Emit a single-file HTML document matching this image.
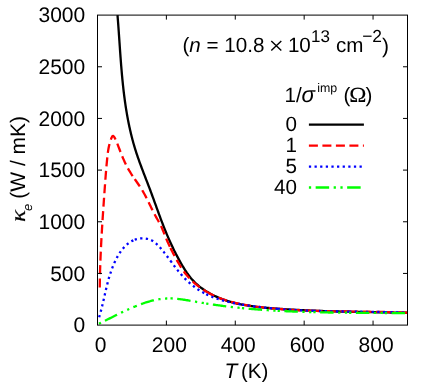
<!DOCTYPE html>
<html><head><meta charset="utf-8"><style>
html,body{margin:0;padding:0;background:#fff;}
svg{display:block;text-rendering:geometricPrecision;will-change:transform;opacity:0.999;font-family:"Liberation Sans",sans-serif;}
.ser{font-family:"Liberation Serif",serif;}
</style></head><body>
<svg width="441" height="382" viewBox="0 0 441 382">
<rect width="441" height="382" fill="#fff"/>
<g font-size="21" fill="#000">
<text x="100.50" y="352.3" text-anchor="middle">0</text>
<text x="169.39" y="352.3" text-anchor="middle">200</text>
<text x="238.28" y="352.3" text-anchor="middle">400</text>
<text x="307.17" y="352.3" text-anchor="middle">600</text>
<text x="376.06" y="352.3" text-anchor="middle">800</text>
<text x="85.2" y="332.20" text-anchor="end">0</text>
<text x="85.2" y="280.53" text-anchor="end">500</text>
<text x="85.2" y="228.87" text-anchor="end">1000</text>
<text x="85.2" y="177.20" text-anchor="end">1500</text>
<text x="85.2" y="125.53" text-anchor="end">2000</text>
<text x="85.2" y="73.87" text-anchor="end">2500</text>
<text x="85.2" y="22.20" text-anchor="end">3000</text>
<text x="224.5" y="378" font-style="italic">T</text><text x="241" y="378" font-size="20.6">(K)</text>
<g transform="translate(25.4,222.1) rotate(-90)"><text x="0" y="0" class="ser" font-style="italic" font-size="21" transform="scale(1.2,1)" stroke="#000" stroke-width="0.2">κ</text><text x="11.0" y="6.7" font-style="italic" font-size="13">e</text><text x="23.4" y="0">(W / mK)</text></g>
</g>
<g font-size="20.6" fill="#000">
<text x="182.5" y="52">(<tspan font-style="italic">n</tspan> = 10.8</text>
<path d="M271.3,41.1 L281.3,50.6 M271.3,50.6 L281.3,41.1" stroke="#000" stroke-width="1.4" fill="none"/>
<text x="287.9" y="52">10</text>
<text x="311" y="42" font-size="17">13</text>
<text x="336" y="52">cm</text>
<text x="362.2" y="42" font-size="17.4">−2</text>
<text x="382" y="53.2" font-size="21">)</text>
<text x="284.5" y="101.8">1/</text><text x="301.4" y="101.9" font-style="italic" font-size="22.3">σ</text>
<text x="317.3" y="91.8" font-size="12.4">imp</text>
<text x="343.4" y="101.6">(</text><text class="ser" font-size="21.4" transform="translate(349.3,101.5) scale(1.08,1)" stroke="#000" stroke-width="0.1">Ω</text><text x="365.6" y="101.6">)</text>
<text x="297" y="131.0" text-anchor="end">0</text>
<text x="297" y="152.0" text-anchor="end">1</text>
<text x="297" y="173.0" text-anchor="end">5</text>
<text x="297" y="194.0" text-anchor="end">40</text>
</g>
<g fill="none" stroke-width="2.3" stroke-linejoin="round">
<path d="M117.51,15.16 L117.64,16.81 L117.77,18.47 L117.90,20.12 L118.03,21.78 L118.15,23.44 L118.28,25.10 L118.40,26.77 L118.52,28.43 L118.64,30.09 L118.76,31.76 L118.87,33.43 L118.99,35.09 L119.11,36.76 L119.22,38.43 L119.34,40.10 L119.45,41.77 L119.57,43.45 L119.68,45.12 L119.80,46.79 L119.91,48.47 L120.03,50.14 L120.15,51.82 L120.27,53.49 L120.39,55.17 L120.51,56.84 L120.64,58.52 L120.76,60.19 L120.89,61.87 L121.02,63.55 L121.15,65.22 L121.29,66.90 L121.43,68.58 L121.57,70.25 L121.71,71.93 L121.86,73.60 L122.01,75.28 L122.17,76.95 L122.32,78.63 L122.49,80.30 L122.65,81.97 L122.82,83.64 L123.00,85.32 L123.18,86.99 L123.36,88.66 L123.55,90.33 L123.75,91.99 L123.95,93.66 L124.16,95.33 L124.37,96.99 L124.59,98.66 L124.81,100.32 L125.04,101.98 L125.28,103.64 L125.52,105.30 L125.77,106.96 L126.03,108.61 L126.29,110.26 L126.57,111.92 L126.85,113.57 L127.13,115.22 L127.43,116.86 L127.73,118.51 L128.04,120.15 L128.36,121.79 L128.69,123.43 L129.03,125.07 L129.37,126.71 L129.73,128.34 L130.09,129.97 L130.47,131.60 L130.85,133.22 L131.24,134.85 L131.65,136.47 L132.06,138.09 L132.48,139.70 L132.92,141.31 L133.36,142.93 L133.82,144.53 L134.29,146.14 L134.76,147.74 L135.25,149.34 L135.76,150.93 L136.27,152.53 L136.79,154.12 L137.32,155.71 L137.86,157.29 L138.42,158.87 L138.97,160.45 L139.54,162.03 L140.11,163.61 L140.69,165.19 L141.28,166.76 L141.86,168.33 L142.46,169.90 L143.05,171.47 L143.65,173.04 L144.26,174.61 L144.86,176.18 L145.47,177.74 L146.07,179.31 L146.68,180.88 L147.28,182.44 L147.89,184.01 L148.49,185.58 L149.09,187.14 L149.68,188.71 L150.28,190.28 L150.86,191.85 L151.45,193.42 L152.03,194.99 L152.60,196.56 L153.18,198.13 L153.75,199.70 L154.32,201.27 L154.89,202.84 L155.46,204.41 L156.03,205.98 L156.59,207.55 L157.16,209.12 L157.73,210.69 L158.31,212.26 L158.88,213.83 L159.46,215.40 L160.03,216.96 L160.62,218.53 L161.20,220.09 L161.79,221.65 L162.39,223.21 L162.99,224.77 L163.60,226.33 L164.21,227.88 L164.83,229.43 L165.45,230.98 L166.09,232.53 L166.73,234.08 L167.38,235.62 L168.04,237.16 L168.71,238.70 L169.39,240.24 L170.07,241.77 L170.77,243.30 L171.48,244.82 L172.19,246.34 L172.92,247.86 L173.66,249.38 L174.40,250.89 L175.16,252.39 L175.93,253.90 L176.70,255.39 L177.49,256.89 L178.29,258.38 L179.09,259.86 L179.91,261.34 L180.74,262.81 L181.58,264.28 L182.43,265.74 L183.30,267.19 L184.18,268.63 L185.09,270.05 L186.01,271.45 L186.95,272.84 L187.92,274.20 L188.91,275.55 L189.94,276.86 L190.99,278.15 L192.07,279.41 L193.18,280.64 L194.33,281.83 L195.51,282.99 L196.72,284.12 L197.96,285.22 L199.23,286.28 L200.53,287.31 L201.85,288.31 L203.21,289.28 L204.58,290.21 L205.98,291.12 L207.40,292.00 L208.84,292.85 L210.30,293.67 L211.78,294.45 L213.28,295.22 L214.79,295.95 L216.31,296.65 L217.85,297.33 L219.40,297.98 L220.96,298.61 L222.54,299.21 L224.12,299.78 L225.70,300.33 L227.29,300.85 L228.89,301.35 L230.50,301.83 L232.11,302.28 L233.73,302.71 L235.35,303.12 L236.97,303.51 L238.60,303.88 L240.24,304.23 L241.88,304.56 L243.52,304.88 L245.17,305.18 L246.82,305.46 L248.48,305.73 L250.14,305.98 L251.80,306.22 L253.46,306.45 L255.13,306.66 L256.80,306.86 L258.47,307.06 L260.14,307.24 L261.81,307.41 L263.49,307.57 L265.16,307.73 L266.84,307.88 L268.52,308.02 L270.19,308.16 L271.87,308.29 L273.55,308.42 L275.23,308.54 L276.91,308.66 L278.58,308.78 L280.26,308.89 L281.93,309.01 L283.61,309.12 L285.28,309.22 L286.96,309.33 L288.63,309.43 L290.31,309.53 L291.98,309.63 L293.65,309.72 L295.33,309.81 L297.00,309.90 L298.67,309.99 L300.34,310.08 L302.02,310.16 L303.69,310.24 L305.36,310.32 L307.03,310.40 L308.70,310.47 L310.37,310.55 L312.04,310.62 L313.71,310.69 L315.38,310.75 L317.05,310.82 L318.72,310.88 L320.39,310.95 L322.06,311.01 L323.73,311.06 L325.40,311.12 L327.07,311.18 L328.74,311.23 L330.41,311.28 L332.08,311.33 L333.75,311.38 L335.42,311.43 L337.09,311.48 L338.76,311.52 L340.43,311.56 L342.10,311.61 L343.77,311.65 L345.44,311.69 L347.11,311.73 L348.78,311.77 L350.45,311.80 L352.13,311.84 L353.80,311.87 L355.47,311.91 L357.14,311.94 L358.81,311.97 L360.49,312.01 L362.16,312.04 L363.83,312.07 L365.51,312.10 L367.18,312.13 L368.85,312.15 L370.53,312.18 L372.20,312.21 L373.88,312.24 L375.56,312.26 L377.23,312.29 L378.91,312.32 L380.59,312.34 L382.26,312.37 L383.94,312.39 L385.62,312.42 L387.30,312.44 L388.98,312.47 L390.66,312.49 L392.34,312.52 L394.03,312.54 L395.71,312.57 L397.39,312.59 L399.07,312.62 L400.76,312.64 L402.44,312.67 L404.13,312.69 L405.82,312.72 L407.50,312.75" stroke="#000"/>
<path d="M99.76,287.60 L99.78,285.79 L99.80,283.97 L99.83,282.16 L99.86,280.35 L99.89,278.53 L99.93,276.72 L99.97,274.91 L100.02,273.10 L100.06,271.29 L100.12,269.47 L100.17,267.66 L100.23,265.85 L100.29,264.04 L100.35,262.23 L100.42,260.42 L100.49,258.61 L100.56,256.80 L100.64,255.00 L100.72,253.19 L100.80,251.38 L100.88,249.57 L100.97,247.76 L101.06,245.95 L101.15,244.15 L101.24,242.34 L101.34,240.53 L101.43,238.72 L101.53,236.91 L101.64,235.11 L101.74,233.30 L101.85,231.49 L101.95,229.69 L102.06,227.88 L102.17,226.07 L102.29,224.26 L102.40,222.46 L102.52,220.65 L102.63,218.84 L102.75,217.03 L102.87,215.23 L102.99,213.42 L103.11,211.61 L103.24,209.80 L103.36,208.00 L103.48,206.19 L103.61,204.38 L103.73,202.57 L103.86,200.76 L103.99,198.95 L104.12,197.14 L104.24,195.33 L104.37,193.52 L104.50,191.71 L104.63,189.90 L104.76,188.09 L104.89,186.28 L105.02,184.47 L105.15,182.66 L105.29,180.85 L105.42,179.04 L105.56,177.24 L105.70,175.43 L105.84,173.63 L105.98,171.82 L106.13,170.02 L106.29,168.22 L106.44,166.42 L106.60,164.63 L106.77,162.84 L106.94,161.05 L107.12,159.26 L107.30,157.48 L107.49,155.70 L107.70,153.92 L107.93,152.14 L108.19,150.35 L108.50,148.56 L108.85,146.75 L109.26,144.92 L109.74,143.08 L110.29,141.22 L110.92,139.34 L111.64,137.51 L112.44,136.21 L113.31,135.97 L114.23,136.95 L115.14,138.62 L115.97,140.44 L116.72,142.20 L117.41,143.93 L118.07,145.63 L118.72,147.33 L119.38,149.03 L120.03,150.73 L120.69,152.43 L121.35,154.11 L122.03,155.80 L122.72,157.47 L123.43,159.14 L124.16,160.79 L124.91,162.44 L125.68,164.07 L126.48,165.68 L127.31,167.28 L128.18,168.86 L129.08,170.43 L130.02,171.97 L130.98,173.50 L131.97,175.02 L132.99,176.52 L134.01,178.02 L134.73,179.05 M134.73,179.05 L135.05,179.51 L136.09,181.00 L137.13,182.50 L138.16,183.99 L139.18,185.49 L140.19,187.01 L141.17,188.53 L142.13,190.07 L143.05,191.63 L143.94,193.20 L144.81,194.79 L145.66,196.38 L146.49,197.99 L147.30,199.61 L148.10,201.23 L148.89,202.86 L149.68,204.49 L150.47,206.12 L151.26,207.75 L152.06,209.37 L152.87,210.99 L153.69,212.61 L154.53,214.21 L155.39,215.80 L156.27,217.38 L157.17,218.95 L158.08,220.51 L158.97,222.08 L159.84,223.67 L160.66,225.28 L161.43,226.91 L162.16,228.57 L162.85,230.24 L163.52,231.92 L164.18,233.61 L164.83,235.30 L165.50,236.99 L166.19,238.66 L166.91,240.32 L167.64,241.97 L168.39,243.61 L169.15,245.24 L169.94,246.87 L170.46,247.94 M170.46,247.94 L170.73,248.50 L171.54,250.13 L172.37,251.75 L173.20,253.38 L174.04,254.99 L174.90,256.61 L175.77,258.21 L176.65,259.81 L177.54,261.40 L178.45,262.97 L179.36,264.53 L180.30,266.07 L181.25,267.59 L182.23,269.09 L183.24,270.57 L184.28,272.03 L185.35,273.45 L186.46,274.85 L187.62,276.22 L188.81,277.56 L190.04,278.87 L191.31,280.14 L192.61,281.39 L193.95,282.61 L195.32,283.79 L196.72,284.94 L198.15,286.06 L199.61,287.15 L201.09,288.21 L202.60,289.24 L204.13,290.23 L205.69,291.19 L206.19,291.49 M206.19,291.49 L207.26,292.12 L208.85,293.02 L210.47,293.88 L212.09,294.71 L213.73,295.51 L215.39,296.27 L217.05,297.01 L218.73,297.70 L220.41,298.37 L222.11,299.01 L223.81,299.61 L225.52,300.18 L227.24,300.73 L228.97,301.25 L230.70,301.75 L232.44,302.22 L234.19,302.66 L235.94,303.08 L237.70,303.48 L239.46,303.86 L241.23,304.22 L241.92,304.36 M241.92,304.36 L243.00,304.57 L244.78,304.89 L246.56,305.20 L248.35,305.49 L250.14,305.77 L251.93,306.04 L253.72,306.29 L255.51,306.54 L257.31,306.77 L259.11,306.99 L260.90,307.21 L262.70,307.42 L264.50,307.62 L266.30,307.82 L268.10,308.01 L269.91,308.19 L271.71,308.36 L273.51,308.53 L275.32,308.69 L277.12,308.84 L277.65,308.89 M277.65,308.89 L278.92,308.99 L280.73,309.14 L282.54,309.27 L284.34,309.40 L286.15,309.53 L287.96,309.65 L289.76,309.76 L291.57,309.87 L293.38,309.98 L295.19,310.08 L297.00,310.17 L298.81,310.26 L300.62,310.35 L302.43,310.43 L304.24,310.51 L306.05,310.58 L307.87,310.65 L309.68,310.72 L311.49,310.78 L313.30,310.84 L313.38,310.84 M313.38,310.84 L315.12,310.89 L316.93,310.95 L318.74,310.99 L320.56,311.04 L322.37,311.09 L324.18,311.13 L326.00,311.17 L327.81,311.20 L329.62,311.24 L331.44,311.27 L333.25,311.30 L335.07,311.33 L336.88,311.36 L338.70,311.38 L340.51,311.41 L342.33,311.43 L344.14,311.45 L345.95,311.48 L347.77,311.50 L349.11,311.51 M349.11,311.51 L349.58,311.52 L351.40,311.54 L353.21,311.56 L355.02,311.58 L356.84,311.60 L358.65,311.62 L360.47,311.64 L362.28,311.66 L364.09,311.68 L365.90,311.71 L367.72,311.73 L369.53,311.75 L371.34,311.78 L373.15,311.81 L374.96,311.83 L376.78,311.86 L378.59,311.90 L380.40,311.93 L382.21,311.96 L384.02,312.00 L384.84,312.02 M384.84,312.02 L385.83,312.04 L387.63,312.09 L389.44,312.13 L391.25,312.18 L393.06,312.23 L394.86,312.28 L396.67,312.34 L398.48,312.40 L400.28,312.47 L402.09,312.53 L403.89,312.61 L405.69,312.68 L407.50,312.76" stroke="#f00" stroke-dasharray="9.0 4.5"/>
<path d="M99.14,317.23 L99.52,315.96 L99.89,314.69 L100.25,313.43 L100.60,312.16 L100.94,310.89 L101.27,309.63 L101.60,308.37 L101.91,307.10 L102.22,305.84 L102.53,304.58 L102.82,303.32 L103.12,302.06 L103.41,300.81 L103.70,299.55 L103.98,298.30 L104.26,297.04 L104.55,295.79 L104.83,294.54 L105.11,293.29 L105.40,292.04 L105.68,290.79 L105.97,289.55 L106.27,288.30 L106.56,287.06 L106.86,285.82 L107.17,284.58 L107.49,283.34 L107.81,282.11 L108.14,280.87 L108.48,279.64 L108.82,278.41 L109.18,277.18 L109.55,275.95 L109.93,274.73 L110.32,273.50 L110.73,272.28 L111.15,271.06 L111.58,269.84 L112.03,268.62 L112.49,267.41 L112.97,266.20 L113.47,264.99 L113.99,263.78 L114.53,262.57 L115.08,261.37 L115.66,260.17 L116.25,258.98 L116.87,257.79 L117.51,256.62 L118.17,255.46 L118.85,254.32 L119.56,253.20 L120.29,252.10 L121.05,251.02 L121.83,249.97 L122.64,248.95 L123.47,247.96 L124.33,247.00 L125.21,246.08 L126.13,245.20 L127.07,244.36 L128.04,243.57 L129.04,242.82 L130.07,242.12 L131.13,241.47 L132.22,240.88 L133.34,240.34 L134.50,239.86 L134.73,239.78 M134.73,239.78 L135.68,239.44 L136.90,239.09 L138.14,238.80 L139.41,238.58 L140.68,238.43 L141.97,238.35 L143.26,238.34 L144.54,238.41 L145.81,238.55 L147.07,238.77 L148.31,239.07 L149.51,239.46 L150.69,239.92 L151.82,240.47 L152.92,241.11 L153.97,241.82 L154.99,242.59 L155.98,243.42 L156.93,244.30 L157.86,245.21 L158.77,246.16 L159.66,247.12 L160.53,248.10 L161.39,249.09 L162.23,250.09 L163.06,251.09 L163.88,252.10 L164.69,253.12 L165.48,254.14 L166.27,255.17 L167.06,256.20 L167.83,257.24 L168.61,258.28 L169.37,259.32 L170.14,260.36 L170.46,260.79 M170.46,260.79 L170.90,261.40 L171.67,262.44 L172.43,263.47 L173.20,264.51 L173.97,265.55 L174.74,266.58 L175.52,267.60 L176.31,268.62 L177.10,269.64 L177.91,270.65 L178.72,271.65 L179.54,272.64 L180.38,273.63 L181.23,274.60 L182.09,275.57 L182.97,276.52 L183.86,277.47 L184.77,278.40 L185.69,279.32 L186.62,280.23 L187.57,281.12 L188.53,282.00 L189.50,282.87 L190.49,283.72 L191.48,284.55 L192.49,285.38 L193.52,286.18 L194.55,286.97 L195.59,287.74 L196.65,288.49 L197.71,289.23 L198.79,289.94 L199.88,290.64 L200.97,291.32 L202.08,291.98 L203.20,292.61 L204.32,293.23 L205.46,293.83 L206.19,294.20 M206.19,294.20 L206.60,294.40 L207.75,294.96 L208.91,295.50 L210.08,296.02 L211.26,296.52 L212.44,297.00 L213.63,297.47 L214.83,297.92 L216.03,298.36 L217.24,298.78 L218.46,299.18 L219.68,299.57 L220.91,299.95 L222.15,300.31 L223.39,300.66 L224.63,301.00 L225.88,301.32 L227.13,301.64 L228.39,301.94 L229.65,302.23 L230.91,302.51 L232.18,302.78 L233.45,303.04 L234.72,303.29 L236.00,303.54 L237.27,303.77 L238.55,304.00 L239.83,304.22 L241.12,304.44 L241.92,304.57 M241.92,304.57 L242.40,304.65 L243.68,304.85 L244.97,305.05 L246.26,305.25 L247.54,305.44 L248.83,305.62 L250.11,305.81 L251.40,305.98 L252.68,306.16 L253.97,306.33 L255.25,306.49 L256.54,306.66 L257.83,306.82 L259.11,306.97 L260.40,307.12 L261.69,307.27 L262.97,307.42 L264.26,307.56 L265.54,307.70 L266.83,307.83 L268.12,307.96 L269.40,308.09 L270.69,308.21 L271.98,308.33 L273.27,308.45 L274.55,308.57 L275.84,308.68 L277.13,308.79 L277.65,308.83 M277.65,308.83 L278.41,308.89 L279.70,309.00 L280.99,309.10 L282.28,309.19 L283.56,309.29 L284.85,309.38 L286.14,309.47 L287.43,309.56 L288.71,309.64 L290.00,309.72 L291.29,309.80 L292.58,309.88 L293.87,309.95 L295.15,310.02 L296.44,310.09 L297.73,310.16 L299.02,310.23 L300.31,310.29 L301.60,310.35 L302.88,310.41 L304.17,310.47 L305.46,310.52 L306.75,310.57 L308.04,310.62 L309.33,310.67 L310.62,310.72 L311.91,310.77 L313.20,310.81 L313.38,310.82 M313.38,310.82 L314.49,310.85 L315.78,310.89 L317.06,310.93 L318.35,310.97 L319.64,311.01 L320.93,311.04 L322.22,311.08 L323.51,311.11 L324.80,311.14 L326.09,311.17 L327.38,311.20 L328.67,311.23 L329.96,311.26 L331.25,311.28 L332.54,311.31 L333.83,311.33 L335.12,311.35 L336.41,311.38 L337.71,311.40 L339.00,311.42 L340.29,311.44 L341.58,311.46 L342.87,311.48 L344.16,311.49 L345.45,311.51 L346.74,311.53 L348.03,311.55 L349.11,311.56 M349.11,311.56 L349.32,311.56 L350.62,311.58 L351.91,311.60 L353.20,311.61 L354.49,311.63 L355.78,311.65 L357.07,311.66 L358.36,311.68 L359.66,311.69 L360.95,311.71 L362.24,311.73 L363.53,311.74 L364.82,311.76 L366.12,311.78 L367.41,311.79 L368.70,311.81 L369.99,311.83 L371.29,311.85 L372.58,311.87 L373.87,311.89 L375.16,311.91 L376.46,311.93 L377.75,311.95 L379.04,311.97 L380.34,311.99 L381.63,312.02 L382.92,312.04 L384.22,312.07 L384.84,312.08 M384.84,312.08 L385.51,312.10 L386.80,312.13 L388.10,312.15 L389.39,312.18 L390.68,312.22 L391.98,312.25 L393.27,312.28 L394.56,312.32 L395.86,312.36 L397.15,312.39 L398.45,312.43 L399.74,312.48 L401.03,312.52 L402.33,312.56 L403.62,312.61 L404.92,312.66 L406.21,312.71 L407.51,312.76" stroke="#00f" stroke-dasharray="2.25 3.375"/>
<path d="M98.92,323.78 L99.87,323.31 L100.81,322.84 L101.76,322.37 L102.70,321.90 L103.64,321.43 L104.58,320.96 L105.52,320.49 L106.46,320.01 L107.40,319.54 L108.33,319.07 L109.27,318.60 L110.20,318.13 L111.14,317.66 L112.07,317.19 L113.01,316.73 L113.94,316.26 L114.88,315.79 L115.82,315.33 L116.75,314.87 L117.69,314.40 L118.63,313.94 L119.58,313.49 L120.52,313.03 L121.46,312.57 L122.41,312.12 L123.36,311.67 L124.31,311.22 L125.26,310.78 L126.22,310.34 L127.18,309.90 L128.14,309.46 L129.11,309.02 L130.08,308.59 L131.05,308.17 L132.02,307.74 L133.00,307.32 L133.98,306.91 L134.73,306.60 M134.73,306.60 L134.97,306.50 L135.95,306.10 L136.94,305.70 L137.93,305.31 L138.93,304.92 L139.92,304.55 L140.92,304.18 L141.92,303.82 L142.93,303.46 L143.93,303.12 L144.94,302.78 L145.95,302.45 L146.96,302.14 L147.98,301.83 L148.99,301.53 L150.01,301.25 L151.03,300.98 L152.05,300.71 L153.07,300.46 L154.09,300.23 L155.12,300.00 L156.14,299.79 L157.17,299.59 L158.20,299.41 L159.23,299.24 L160.26,299.09 L161.29,298.95 L162.32,298.82 L163.35,298.71 L164.38,298.62 L165.42,298.55 L166.45,298.49 L167.49,298.45 L168.52,298.43 L169.56,298.42 L170.46,298.43 M170.46,298.43 L170.59,298.43 L171.63,298.46 L172.67,298.50 L173.71,298.56 L174.74,298.63 L175.78,298.71 L176.82,298.80 L177.86,298.91 L178.90,299.02 L179.94,299.15 L180.98,299.29 L182.01,299.43 L183.05,299.58 L184.09,299.74 L185.14,299.90 L186.18,300.07 L187.22,300.25 L188.26,300.43 L189.30,300.61 L190.34,300.80 L191.38,300.98 L192.42,301.17 L193.47,301.36 L194.51,301.55 L195.55,301.73 L196.59,301.92 L197.63,302.10 L198.68,302.28 L199.72,302.46 L200.76,302.64 L201.80,302.81 L202.85,302.99 L203.89,303.16 L204.93,303.33 L205.98,303.49 L206.19,303.53 M206.19,303.53 L207.02,303.66 L208.06,303.82 L209.11,303.98 L210.15,304.14 L211.19,304.30 L212.24,304.45 L213.28,304.60 L214.32,304.75 L215.37,304.90 L216.41,305.05 L217.46,305.20 L218.50,305.34 L219.55,305.48 L220.59,305.62 L221.63,305.76 L222.68,305.89 L223.72,306.03 L224.77,306.16 L225.81,306.29 L226.86,306.42 L227.90,306.55 L228.95,306.67 L229.99,306.79 L231.04,306.92 L232.09,307.04 L233.13,307.15 L234.18,307.27 L235.22,307.39 L236.27,307.50 L237.31,307.61 L238.36,307.72 L239.41,307.83 L240.45,307.94 L241.50,308.04 L241.92,308.08 M241.92,308.08 L242.54,308.14 L243.59,308.25 L244.64,308.35 L245.68,308.45 L246.73,308.54 L247.78,308.64 L248.82,308.73 L249.87,308.83 L250.92,308.92 L251.97,309.01 L253.01,309.10 L254.06,309.18 L255.11,309.27 L256.15,309.35 L257.20,309.43 L258.25,309.52 L259.30,309.60 L260.34,309.67 L261.39,309.75 L262.44,309.83 L263.49,309.90 L264.54,309.98 L265.58,310.05 L266.63,310.12 L267.68,310.19 L268.73,310.26 L269.78,310.32 L270.83,310.39 L271.87,310.45 L272.92,310.52 L273.97,310.58 L275.02,310.64 L276.07,310.70 L277.12,310.76 L277.65,310.79 M277.65,310.79 L278.17,310.81 L279.21,310.87 L280.26,310.93 L281.31,310.98 L282.36,311.03 L283.41,311.08 L284.46,311.14 L285.51,311.19 L286.56,311.23 L287.61,311.28 L288.66,311.33 L289.71,311.37 L290.76,311.42 L291.81,311.46 L292.86,311.51 L293.91,311.55 L294.96,311.59 L296.01,311.63 L297.06,311.67 L298.11,311.70 L299.16,311.74 L300.21,311.78 L301.26,311.81 L302.31,311.85 L303.36,311.88 L304.41,311.91 L305.46,311.95 L306.51,311.98 L307.56,312.01 L308.61,312.04 L309.66,312.07 L310.71,312.10 L311.76,312.12 L312.81,312.15 L313.38,312.16 M313.38,312.16 L313.86,312.18 L314.91,312.20 L315.96,312.23 L317.01,312.25 L318.07,312.27 L319.12,312.30 L320.17,312.32 L321.22,312.34 L322.27,312.36 L323.32,312.38 L324.37,312.40 L325.42,312.42 L326.48,312.44 L327.53,312.46 L328.58,312.48 L329.63,312.49 L330.68,312.51 L331.73,312.52 L332.78,312.54 L333.84,312.56 L334.89,312.57 L335.94,312.58 L336.99,312.60 L338.04,312.61 L339.09,312.62 L340.15,312.64 L341.20,312.65 L342.25,312.66 L343.30,312.67 L344.35,312.68 L345.41,312.69 L346.46,312.71 L347.51,312.72 L348.56,312.73 L349.11,312.73 M349.11,312.73 L349.61,312.74 L350.67,312.74 L351.72,312.75 L352.77,312.76 L353.82,312.77 L354.87,312.78 L355.93,312.79 L356.98,312.80 L358.03,312.81 L359.08,312.81 L360.14,312.82 L361.19,312.83 L362.24,312.84 L363.29,312.84 L364.35,312.85 L365.40,312.86 L366.45,312.87 L367.50,312.87 L368.56,312.88 L369.61,312.89 L370.66,312.89 L371.71,312.90 L372.77,312.91 L373.82,312.91 L374.87,312.92 L375.93,312.93 L376.98,312.94 L378.03,312.94 L379.08,312.95 L380.14,312.96 L381.19,312.97 L382.24,312.97 L383.29,312.98 L384.35,312.99 L384.84,312.99 M384.84,312.99 L385.40,313.00 L386.45,313.01 L387.51,313.01 L388.56,313.02 L389.61,313.03 L390.67,313.04 L391.72,313.05 L392.77,313.06 L393.82,313.07 L394.88,313.08 L395.93,313.09 L396.98,313.10 L398.04,313.11 L399.09,313.13 L400.14,313.14 L401.20,313.15 L402.25,313.16 L403.30,313.18 L404.35,313.19 L405.41,313.20 L406.46,313.22 L407.51,313.23" stroke="#0f0" stroke-dasharray="2.25 4.5 13.5 4.5 2.25 4.5"/>
<path d="M308.9,124.6 H363.9" stroke="#000"/>
<path d="M308.9,145.6 H363.9" stroke="#f00" stroke-dasharray="9.0 4.5"/>
<path d="M308.9,166.6 H363.9" stroke="#00f" stroke-dasharray="2.25 3.375"/>
<path d="M308.9,187.5 H363.9" stroke="#0f0" stroke-dasharray="2.25 4.5 13.5 4.5 2.25 4.5"/>
</g>
<g fill="none" stroke="#000" stroke-width="1">
<rect x="97.5" y="15.1" width="310.0" height="310.0"/>
<path d="M166.39,325.1 v-4.5 M166.39,15.1 v4.5"/>
<path d="M235.28,325.1 v-4.5 M235.28,15.1 v4.5"/>
<path d="M304.17,325.1 v-4.5 M304.17,15.1 v4.5"/>
<path d="M373.06,325.1 v-4.5 M373.06,15.1 v4.5"/>
<path d="M97.5,273.43 h4.5 M407.5,273.43 h-4.5"/>
<path d="M97.5,221.77 h4.5 M407.5,221.77 h-4.5"/>
<path d="M97.5,170.10 h4.5 M407.5,170.10 h-4.5"/>
<path d="M97.5,118.43 h4.5 M407.5,118.43 h-4.5"/>
<path d="M97.5,66.77 h4.5 M407.5,66.77 h-4.5"/>
</g>
</svg>
</body></html>
